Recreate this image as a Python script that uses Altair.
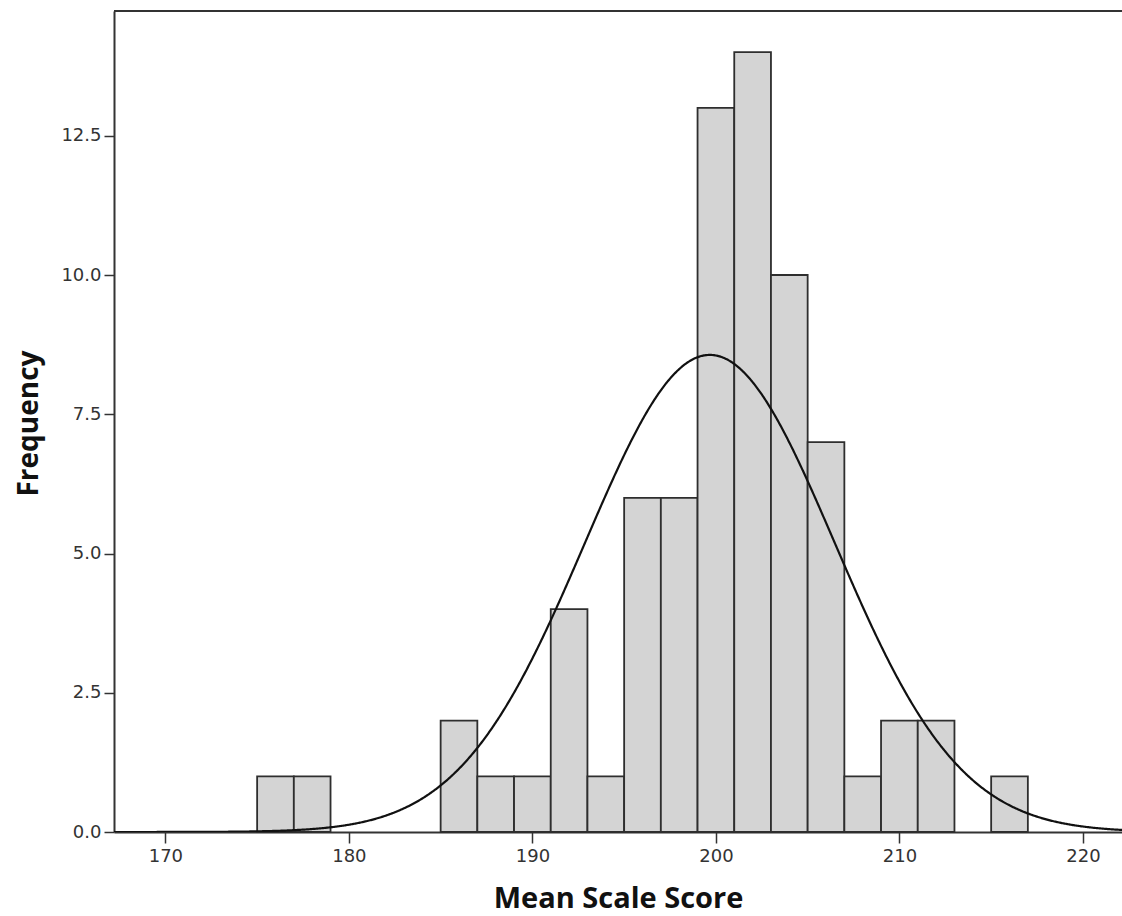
import altair as alt
import pandas as pd

# Histogram bins (width 2) and counts
bin_start = [175, 177, 185, 187, 189, 191, 193, 195, 197, 199, 201, 203, 205, 207, 209, 211, 215]
counts = [1, 1, 2, 1, 1, 4, 1, 6, 6, 13, 14, 10, 7, 1, 2, 2, 1]
bin_width = 2

# Fitted normal curve parameters (estimated from the drawn curve)
curve_mean = 199.67
curve_sd = 6.8
n_obs = sum(counts)

x_ticks = [170, 180, 190, 200, 210, 220]
y_ticks = [0, 2.5, 5.0, 7.5, 10.0, 12.5]
x_domain = [167.2, 222.13]
y_domain = [0, 14.74]

bars_df = pd.DataFrame({
    "start": bin_start,
    "end": [s + bin_width for s in bin_start],
    "count": counts,
})

x_scale = alt.Scale(domain=x_domain, nice=False, zero=False)
y_scale = alt.Scale(domain=y_domain, nice=False)

x_axis = alt.Axis(
    values=x_ticks, format="d", title="Mean Scale Score",
    titleFont="Open Sans", titleFontWeight="bold", titleFontSize=29, titleColor="#111",
    titleBaseline="alphabetic", titleY=75,
    labelFont="DejaVu Sans", labelFontSize=18, labelColor="#333", labelPadding=4,
    tickSize=11, tickColor="#333", tickWidth=1.5,
    domainColor="#333", domainWidth=2, grid=False,
)
y_axis = alt.Axis(
    values=y_ticks, format=".1f", title="Frequency",
    titleFont="Open Sans", titleFontWeight="bold", titleFontSize=28, titleColor="#111",
    titleBaseline="alphabetic", titleX=-77, titleY=412, titleAngle=-90, titleAlign="center",
    labelFont="DejaVu Sans", labelFontSize=18, labelColor="#333", labelPadding=3,
    tickSize=10, tickColor="#333", tickWidth=1.5,
    domainColor="#333", domainWidth=2, grid=False,
)

bars = alt.Chart(bars_df).mark_rect(
    fill="#d4d4d4", stroke="#2e2e2e", strokeWidth=1.8
).encode(
    x=alt.X("start:Q", scale=x_scale, axis=x_axis),
    x2="end:Q",
    y=alt.Y("count:Q", scale=y_scale, axis=y_axis),
    y2=alt.datum(0),
)

curve = alt.Chart(alt.sequence(167.2, 222.2, 0.05, as_="x")).transform_calculate(
    y=f"{n_obs} * {bin_width} / ({curve_sd} * sqrt(2 * PI)) * exp(-pow(datum.x - {curve_mean}, 2) / (2 * {curve_sd} * {curve_sd}))"
).mark_line(color="#111111", strokeWidth=2.2, clip=True).encode(
    x=alt.X("x:Q", scale=x_scale),
    y=alt.Y("y:Q", scale=y_scale),
)

# top border line of the frame
top_line = alt.Chart(pd.DataFrame({"x": [x_domain[0], x_domain[1]]})).mark_rule(
    color="#333", strokeWidth=2
).encode(
    x=alt.X("min(x):Q", scale=x_scale),
    x2="max(x):Q",
    y=alt.value(0),
)

chart = alt.layer(bars, curve, top_line).properties(
    width=1008, height=821,
    autosize=alt.AutoSizeParams(type="none"),
    padding={"left": 114, "top": 11, "right": 0, "bottom": 84},
    background="white",
).configure_view(stroke=None)

chart.save("out.html", embed_options={"renderer": "svg", "actions": False})
